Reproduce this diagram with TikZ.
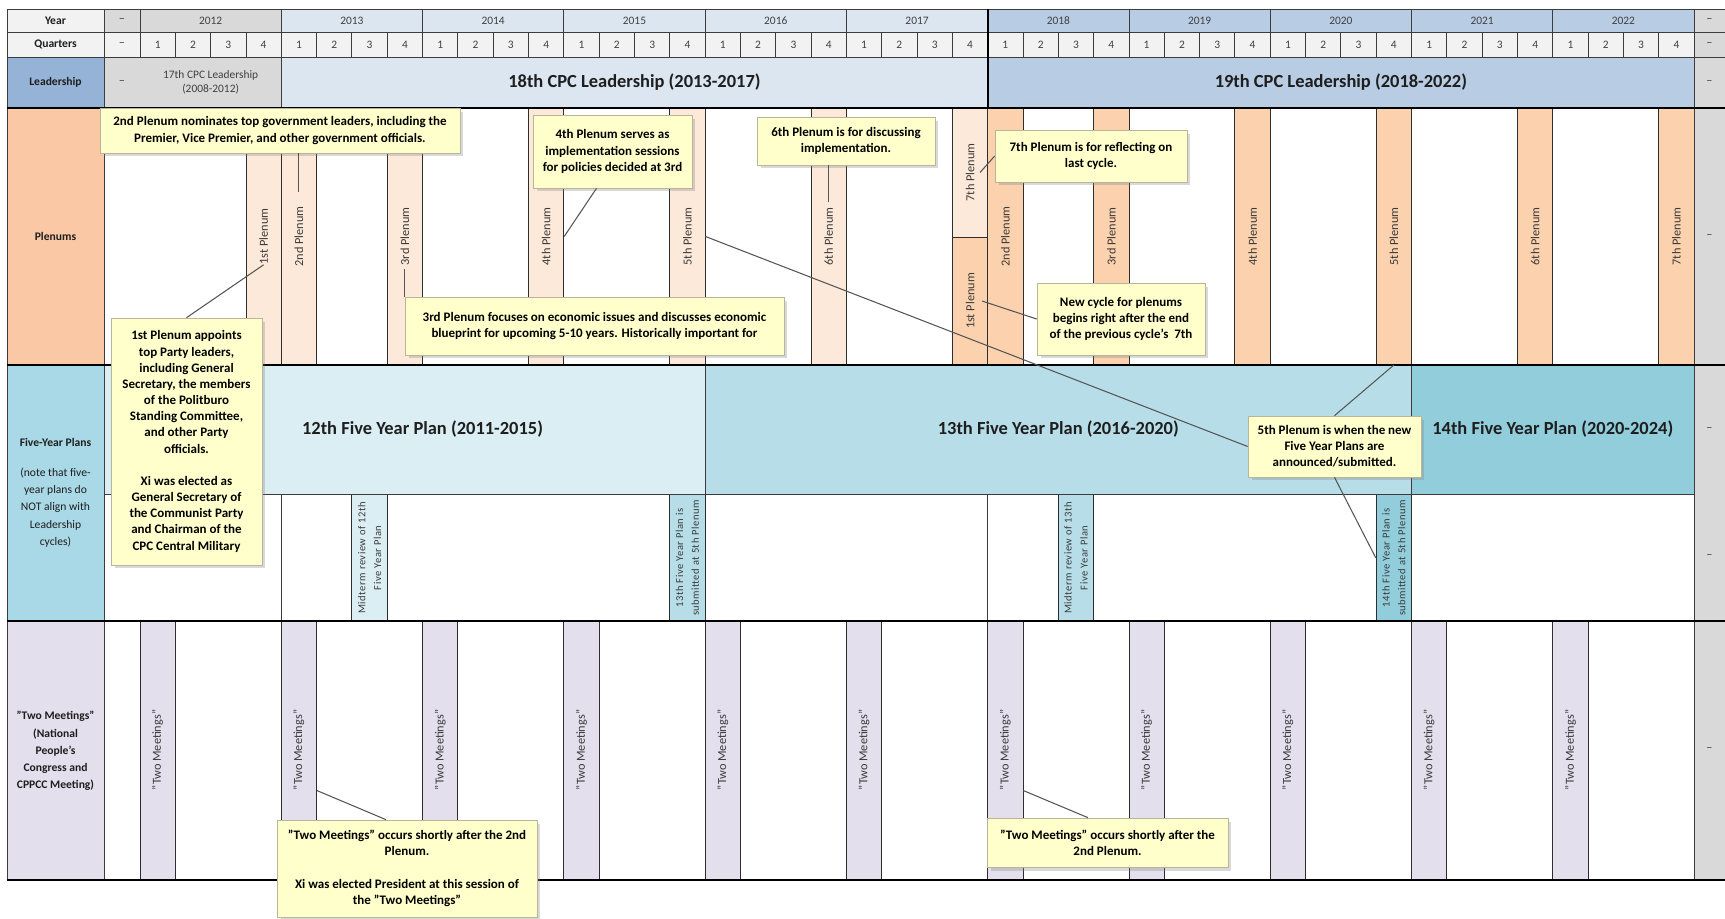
\documentclass[tikz,border=0pt]{standalone}
\usepackage{fontspec}
\setmainfont{Carlito}
\usetikzlibrary{shadows}

\definecolor{gridline}{HTML}{3C3C3C}
\definecolor{colline}{HTML}{2E2E2E}
\definecolor{hdrlight}{HTML}{F2F2F2}
\definecolor{hdrgray}{HTML}{D9D9D9}
\definecolor{hdrtextc}{HTML}{404040}
\definecolor{lbltext}{HTML}{1E1E1E}
\definecolor{vtext}{HTML}{3A3A3A}
\definecolor{lead18}{HTML}{DCE6F1}
\definecolor{lead19}{HTML}{B8CCE4}
\definecolor{leadlbl}{HTML}{95B3D7}
\definecolor{plenlbl}{HTML}{FAC8A4}
\definecolor{plen18}{HTML}{FDE9D9}
\definecolor{plen19}{HTML}{FCD1AE}
\definecolor{fyplbl}{HTML}{A9D8E6}
\definecolor{fyp12}{HTML}{DAEEF3}
\definecolor{fyp13}{HTML}{B7DEE8}
\definecolor{fyp14}{HTML}{92CDDC}
\definecolor{twolbl}{HTML}{E4DFEC}
\definecolor{notefill}{HTML}{FFFFCC}
\definecolor{noteedge}{HTML}{B9B49A}
\definecolor{leadergray}{HTML}{555555}

\tikzset{
  cellline/.style = {draw=gridline, line width=0.5pt},
  rowrule/.style = {draw=black, line width=1.2pt},
  rowlabel/.style = {align=center, text=lbltext,
    font=\bfseries\fontsize{6.6}{9.8}\selectfont},
  hdrtext/.style = {text=hdrtextc, font=\fontsize{6.5}{8}\selectfont},
  dashmark/.style = {text=hdrtextc, font=\fontsize{7}{8}\selectfont},
  bandtext/.style = {text=lbltext, font=\bfseries\fontsize{10.5}{12}\selectfont},
  vlabel/.style = {rotate=90, inner sep=0pt, minimum height=0.7064cm,
    text=vtext, font=\fontsize{7}{8}\selectfont},% one quarter wide
  vsmall/.style = {vlabel, align=center,
    font=\fontsize{6}{9}\selectfont\addfontfeature{LetterSpace=5}},
  note/.style = {draw=noteedge, fill=notefill, line width=0.4pt, align=center,
    inner sep=2pt, font=\bfseries\fontsize{7.4}{9.2}\selectfont,
    drop shadow={shadow xshift=0.07cm, shadow yshift=-0.07cm, opacity=0.3}},
  leader/.style = {draw=leadergray, line width=0.6pt},
}

\begin{document}
\begin{tikzpicture}[x=0.02cm, y=-0.02cm]
\useasboundingbox (0,0) rectangle (1725,919);
\def\xo{140}% left edge of 2012 Q1
\def\qw{35.32}% one quarter
\def\yw{141.28}% one year

% header and leadership fills
\fill[hdrlight] (7,9) rectangle (104,57);
\fill[hdrgray] (104,9) rectangle (\xo,32);
\fill[hdrlight] (104,32) rectangle ({\xo+11*\yw},57);
\fill[hdrgray] (\xo,9) rectangle ({\xo+\yw},32);
\fill[lead18] ({\xo+\yw},9) rectangle ({\xo+6*\yw},32);
\fill[lead19] ({\xo+6*\yw},9) rectangle ({\xo+11*\yw},32);
\fill[leadlbl] (7,57) rectangle (104,108);
\fill[hdrgray] (104,57) rectangle ({\xo+\yw},108);
\fill[lead18] ({\xo+\yw},57) rectangle ({\xo+6*\yw},108);
\fill[lead19] ({\xo+6*\yw},57) rectangle ({\xo+11*\yw},108);
\fill[hdrgray] ({\xo+11*\yw},9) rectangle (1725,880);

% row label cells
\fill[plenlbl] (7,108) rectangle (104,365);
\fill[fyplbl] (7,365) rectangle (104,621);
\fill[twolbl] (7,621) rectangle (104,880);

% five-year plan bands
\fill[fyp12] (104,365) rectangle ({\xo+4*\yw},494);
\fill[fyp13] ({\xo+4*\yw},365) rectangle ({\xo+9*\yw},494);
\fill[fyp14] ({\xo+9*\yw},365) rectangle ({\xo+11*\yw},494);

% plenum columns: quarter / colour / top / bottom
\foreach \k/\c/\ya/\yb in {3/plen18/108/365, 4/plen18/108/365, 7/plen18/108/365,
    11/plen18/108/365, 15/plen18/108/365, 19/plen18/108/365, 23/plen18/108/237,
    23/plen19/237/365, 24/plen19/108/365, 27/plen19/108/365, 31/plen19/108/365,
    35/plen19/108/365, 39/plen19/108/365, 43/plen19/108/365}
  \filldraw[fill=\c, draw=colline, line width=0.5pt]
    ({\xo+\k*\qw},\ya) rectangle ({\xo+(\k+1)*\qw},\yb);

% reviews and submissions of the plans
\foreach \k/\c in {6/fyp12, 15/fyp13, 26/fyp13, 35/fyp14}
  \filldraw[fill=\c, draw=colline, line width=0.5pt]
    ({\xo+\k*\qw},494) rectangle ({\xo+(\k+1)*\qw},621);

% "Two Meetings" every first quarter
\foreach \i in {0,...,10}{
  \filldraw[fill=twolbl, draw=colline, line width=0.5pt]
    ({\xo+4*\i*\qw},621) rectangle ({\xo+(4*\i+1)*\qw},880);
  \node[vlabel] (tm\i) at ({\xo+(4*\i+0.5)*\qw},750) {"Two Meetings"};
}

% grid
\draw[cellline] (7,9) -- (1725,9);
\draw[cellline] (7,32) -- (1725,32);
\draw[cellline] (7,57) -- (1725,57);
\draw[cellline] (7,9) -- (7,880);
\draw[cellline] (104,9) -- (104,880);
\draw[cellline] ({\xo+11*\yw},9) -- ({\xo+11*\yw},880);
\foreach \j in {0,...,11}
  \draw[cellline] ({\xo+\j*\yw},9) -- ({\xo+\j*\yw},32);
\foreach \k in {0,...,44}
  \draw[cellline] ({\xo+\k*\qw},32) -- ({\xo+\k*\qw},57);
\draw[cellline] ({\xo+\yw},57) -- ({\xo+\yw},108);
\draw[cellline] (104,494) -- ({\xo+11*\yw},494);
\draw[cellline] ({\xo+4*\yw},365) -- ({\xo+4*\yw},494);
\draw[cellline] ({\xo+9*\yw},365) -- ({\xo+9*\yw},494);
\draw[cellline] ({\xo+\yw},494) -- ({\xo+\yw},621);
\draw[cellline] ({\xo+6*\yw},494) -- ({\xo+6*\yw},621);
\draw[rowrule] ({\xo+6*\yw},9) -- ({\xo+6*\yw},108);
\foreach \y in {108,365,621,880}
  \draw[rowrule] (7,\y) -- (1725,\y);

% header texts
\node[rowlabel] (yearhd) at (55.5,20.5) {Year};
\node[rowlabel] (quarterhd) at (55.5,44.5) {Quarters};
\node[rowlabel] (leadhd) at (55.5,82.5) {Leadership};
\node[rowlabel] (plenhd) at (55.5,236.5) {Plenums};
\node[rowlabel] (fyphd) at (55.5,493) {Five-Year Plans\\[7pt]
  {\mdseries (note that five-}\\{\mdseries year plans do}\\
  {\mdseries NOT align with}\\{\mdseries Leadership}\\{\mdseries cycles)}};
\node[rowlabel] (twohd) at (55.5,751) {"Two Meetings"\\(National\\People's\\
  Congress and\\CPPCC Meeting)};
\foreach \yr [count=\j from 0] in {2012,...,2022}
  \node[hdrtext] (yr\yr) at ({\xo+(\j+0.5)*\yw},20.5) {\yr};
\foreach \k in {0,...,43}{
  \pgfmathtruncatemacro{\qn}{mod(\k,4)+1}
  \node[hdrtext] (q\k) at ({\xo+(\k+0.5)*\qw},44.5) {\qn};
}
\foreach \n/\y in {a/20.5, b/44.5, c/82.5}
  \node[dashmark] (dl\n) at (122,\y) {\textendash};
\foreach \n/\y in {a/20.5, b/44.5, c/82.5, d/236.5, e/430, f/557, g/750}
  \node[dashmark] (dr\n) at (1709.5,\y) {\textendash};

% leadership and plan bands
\node[hdrtext, align=center] (cpc17) at ({\xo+0.5*\yw},82.5) {17th CPC Leadership\\(2008-2012)};
\node[bandtext] (cpc18) at ({\xo+3.5*\yw},82.5) {18th CPC Leadership (2013-2017)};
\node[bandtext] (cpc19) at ({\xo+8.5*\yw},82.5) {19th CPC Leadership (2018-2022)};
\node[bandtext] (plan12) at ({\xo+2*\yw},429.5) {12th Five Year Plan (2011-2015)};
\node[bandtext] (plan13) at ({\xo+6.5*\yw},429.5) {13th Five Year Plan (2016-2020)};
\node[bandtext] (plan14) at ({\xo+10*\yw},429.5) {14th Five Year Plan (2020-2024)};

% plenums
\node[vlabel] (p18n1) at ({\xo+3.5*\qw},236.5) {1st Plenum};
\node[vlabel] (p18n2) at ({\xo+4.5*\qw},236.5) {2nd Plenum};
\node[vlabel] (p18n3) at ({\xo+7.5*\qw},236.5) {3rd Plenum};
\node[vlabel] (p18n4) at ({\xo+11.5*\qw},236.5) {4th Plenum};
\node[vlabel] (p18n5) at ({\xo+15.5*\qw},236.5) {5th Plenum};
\node[vlabel] (p18n6) at ({\xo+19.5*\qw},236.5) {6th Plenum};
\node[vlabel] (p18n7) at ({\xo+23.5*\qw},172.5) {7th Plenum};
\node[vlabel] (p19n1) at ({\xo+23.5*\qw},301) {1st Plenum};
\node[vlabel] (p19n2) at ({\xo+24.5*\qw},236.5) {2nd Plenum};
\node[vlabel] (p19n3) at ({\xo+27.5*\qw},236.5) {3rd Plenum};
\node[vlabel] (p19n4) at ({\xo+31.5*\qw},236.5) {4th Plenum};
\node[vlabel] (p19n5) at ({\xo+35.5*\qw},236.5) {5th Plenum};
\node[vlabel] (p19n6) at ({\xo+39.5*\qw},236.5) {6th Plenum};
\node[vlabel] (p19n7) at ({\xo+43.5*\qw},236.5) {7th Plenum};
\coordinate (p19n5foot) at ({\xo+35.5*\qw},365);

\node[vsmall] (rev12) at ({\xo+6.5*\qw},558) {Midterm review of 12th\\Five Year Plan};
\node[vsmall] (sub13) at ({\xo+15.5*\qw},558) {13th Five Year Plan is\\submitted at 5th Plenum};
\node[vsmall] (rev13) at ({\xo+26.5*\qw},558) {Midterm review of 13th\\Five Year Plan};
\node[vsmall] (sub14) at ({\xo+35.5*\qw},558) {14th Five Year Plan is\\submitted at 5th Plenum};

% comment boxes
\node[note, minimum width=7.2cm, minimum height=0.9cm] (note2nd) at (280,130.5)
  {2nd Plenum nominates top government leaders, including the\\
   Premier, Vice Premier, and other government officials.};
\node[note, minimum width=3.02cm, minimum height=4.94cm] (note1st) at (186.5,441.5)
  {1st Plenum appoints\\top Party leaders,\\including General\\Secretary, the members\\
   of the Politburo\\Standing Committee,\\and other Party\\officials.\\[9.2pt]
   Xi was elected as\\General Secretary of\\the Communist Party\\and Chairman of the\\
   CPC Central Military};
\node[note, minimum width=7.58cm, minimum height=1.16cm] (note3rd) at (594.5,326)
  {3rd Plenum focuses on economic issues and discusses economic\\
   blueprint for upcoming 5-10 years. Historically important for};
\node[note, minimum width=3.18cm, minimum height=1.46cm] (note4th) at (612.5,151.5)
  {4th Plenum serves as\\implementation sessions\\for policies decided at 3rd};
\node[note, minimum width=3.56cm, minimum height=0.96cm] (note6th) at (846,141)
  {6th Plenum is for discussing\\implementation.};
\node[note, minimum width=3.84cm, minimum height=1.04cm] (note7th) at (1091,156)
  {7th Plenum is for reflecting on\\last cycle.};
\node[note, minimum width=3.36cm, minimum height=1.44cm] (notecycle) at (1121,319)
  {New cycle for plenums\\begins right after the end\\of the previous cycle's~~7th};
\node[note, minimum width=3.46cm, minimum height=1.22cm] (notefifth) at (1334.5,446.5)
  {5th Plenum is when the new\\Five Year Plans are\\announced/submitted.};
\node[note, minimum width=5.2cm, minimum height=1.94cm] (notetwoA) at (407,868.5)
  {"Two Meetings" occurs shortly after the 2nd\\Plenum.\\[9.2pt]
   Xi was elected President at this session of\\the "Two Meetings"};
\node[note, minimum width=4.82cm, minimum height=0.98cm] (notetwoB) at (1107.5,842.5)
  {"Two Meetings" occurs shortly after the\\2nd Plenum.};

% leader lines
\draw[leader, shorten <=8pt] (p18n2.east) -- (p18n2.east |- note2nd.south);
\draw[leader] (note1st.north) -- (p18n1.west);
\draw[leader, shorten <=2pt] (p18n3.west) -- (p18n3.west |- note3rd.north);
\draw[leader] ([xshift=-0.32cm]note4th.south) -- (p18n4.south);
\draw[leader, shorten <=3pt] (p18n6.east) -- (p18n6.east |- note6th.south);
\draw[leader] (note7th.west) -- ([xshift=-0.16cm]p18n7.south);
\draw[leader] (notecycle.west) -- ([xshift=-0.12cm]p19n1.south);
\draw[leader] (notefifth.west) -- (p18n5.south);
\draw[leader] (notefifth.north) -- (p19n5foot);
\draw[leader] (notefifth.south) -- (sub14.north);
\draw[leader] ([xshift=-0.42cm]notetwoA.north) -- (tm1.south west);
\draw[leader] ([xshift=-0.39cm]notetwoB.north) -- (tm6.south west);
\end{tikzpicture}
\end{document}
